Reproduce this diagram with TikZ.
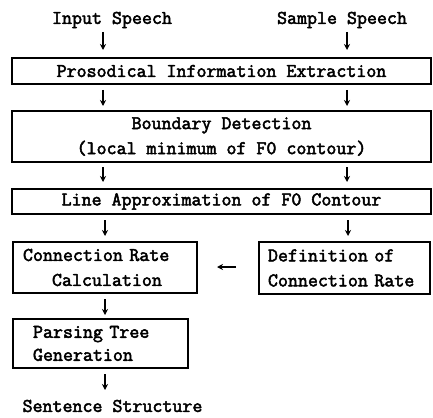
\documentclass[tikz,border=0pt]{standalone}
\usepackage{fontspec}
\usetikzlibrary{arrows.meta}
\newfontfamily\mono{Latin Modern Mono}[FakeBold=2.6]
\newcommand\monofnt[1]{\mono\fontsize{19.4}{#1}\selectfont}
\tikzset{
  lbl/.style={font=\monofnt{25}, inner sep=0pt},
  box/.style={draw, line width=1.2pt, font=\monofnt{25}, inner ysep=0pt},
  widebox/.style={box, minimum width=419pt, align=center, inner xsep=0pt},
  arr/.style={line width=1.6pt, -{Stealth[length=6pt,width=6pt]}},
}
\begin{document}
\begin{tikzpicture}[x=1pt,y=-1pt]
\useasboundingbox (0,0) rectangle (433,417);

% inputs
\node[lbl] (in) at (112,20) {Input Speech};
\node[lbl] (sm) at (342,20) {Sample Speech};

% main chain of wide boxes
\node[widebox, minimum height=26pt] (pie) at (221.5,71) {Prosodical Information Extraction};
\node[widebox, minimum height=51pt] (bd) at (221.5,136.5) {Boundary Detection\\(local minimum of F0 contour)};
\node[widebox, minimum height=25pt] (la) at (221.5,201.5) {Line Approximation of F0 Contour};

% lower boxes
\node[box, text width=164pt, inner xsep=10pt, minimum height=51pt, align=left] (crc) at (105,267.5)
  {Connection Rate\\\hspace*{29pt}Calculation};
\node[box, text width=153pt, inner xsep=9pt, minimum height=52pt, align=left] (dcr) at (344.5,268)
  {Definition of\\Connection Rate};
\node[box, text width=135pt, inner xsep=20pt, minimum height=49pt, align=left,
      font=\monofnt{23}] (ptg) at (100.5,343.5)
  {Parsing Tree\\Generation};

\node[lbl] (ss) at (112.5,406) {Sentence Structure};

% arrow end points
\coordinate (a1s) at (103,32);  \coordinate (a1e) at (103,50);
\coordinate (b1s) at (347,32);  \coordinate (b1e) at (347,50);
\coordinate (a2s) at (103,90);  \coordinate (a2e) at (103,106);
\coordinate (b2s) at (347,90);  \coordinate (b2e) at (347,106);
\coordinate (a3s) at (103,167); \coordinate (a3e) at (103,182);
\coordinate (b3s) at (347,167); \coordinate (b3e) at (347,182);
\coordinate (a4s) at (105,220); \coordinate (a4e) at (105,236);
\coordinate (b4s) at (348,220); \coordinate (b4e) at (348,236);
\coordinate (hs)  at (236,267); \coordinate (he)  at (217,267);
\coordinate (a5s) at (105,299); \coordinate (a5e) at (105,315);
\coordinate (a6s) at (105,374); \coordinate (a6e) at (105,390);

\draw[arr] (a1s) -- (a1e);
\draw[arr] (b1s) -- (b1e);
\draw[arr] (a2s) -- (a2e);
\draw[arr] (b2s) -- (b2e);
\draw[arr] (a3s) -- (a3e);
\draw[arr] (b3s) -- (b3e);
\draw[arr] (a4s) -- (a4e);
\draw[arr] (b4s) -- (b4e);
\draw[arr, line width=1.2pt] (hs) -- (he);
\draw[arr] (a5s) -- (a5e);
\draw[arr] (a6s) -- (a6e);
\end{tikzpicture}
\end{document}
